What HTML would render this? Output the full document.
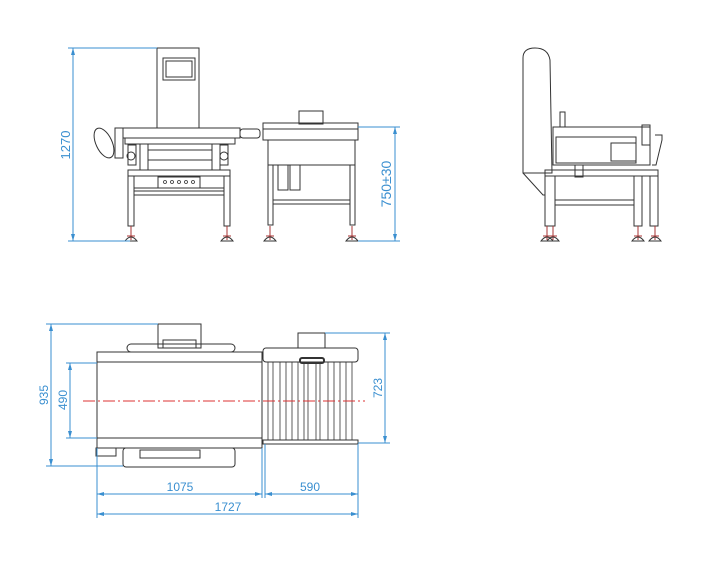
<!DOCTYPE html>
<html><head><meta charset="utf-8"><style>
html,body{margin:0;padding:0;background:#fff}
svg{display:block}
text{font-family:"Liberation Sans",sans-serif;fill:#3a8fd0}
</style></head><body>
<svg width="720" height="579" viewBox="0 0 720 579" xmlns="http://www.w3.org/2000/svg">
<g fill="none" stroke="#333" stroke-width="1">
<!-- FRONT VIEW left machine -->
<rect x="157" y="48" width="42" height="80"/>
<rect x="163" y="58" width="32" height="22"/>
<rect x="166" y="61" width="26" height="16"/>
<rect x="123" y="128" width="117" height="10"/>
<rect x="240" y="129" width="20" height="9" rx="3"/>
<ellipse cx="104" cy="143" rx="8" ry="16" transform="rotate(-25 104 143)"/>
<rect x="115" y="128" width="8" height="30"/>
<rect x="125" y="138" width="110" height="6"/>
<rect x="140" y="144" width="8" height="26"/>
<rect x="212" y="144" width="8" height="26"/>
<line x1="148" y1="150" x2="212" y2="150"/>
<line x1="148" y1="160" x2="212" y2="160"/>
<circle cx="131" cy="156" r="4"/><circle cx="224" cy="156" r="4"/>
<rect x="128" y="145" width="8" height="20"/><rect x="220" y="145" width="8" height="20"/>
<rect x="128" y="170" width="102" height="6"/>
<rect x="128" y="176" width="6" height="50"/>
<rect x="224" y="176" width="6" height="50"/>
<rect x="158" y="177" width="42" height="11"/>
<line x1="134" y1="188" x2="224" y2="188"/>
<rect x="134" y="191" width="90" height="4"/>
<g stroke-width="0.8"><circle cx="165" cy="182" r="1.5"/><circle cx="172" cy="182" r="1.5"/><circle cx="179" cy="182" r="1.5"/><circle cx="186" cy="182" r="1.5"/><circle cx="193" cy="182" r="1.5"/></g>
<!-- reject table -->
<rect x="263" y="123" width="95" height="17"/>
<line x1="263" y1="129" x2="358" y2="129"/>
<rect x="299" y="111" width="24" height="13"/>
<rect x="268" y="140" width="87" height="25"/>
<rect x="278" y="165" width="10" height="25"/>
<rect x="290" y="165" width="10" height="25"/>
<rect x="268" y="165" width="5" height="60"/>
<rect x="350" y="165" width="5" height="60"/>
<rect x="273" y="200" width="77" height="4"/>
<!-- SIDE VIEW -->
<path d="M523 173 L523 58 Q523 48 535 48 Q548 48 550 60 L552 173 Z"/>
<path d="M523 173 L543 195 L545 195"/>
<rect x="553" y="127" width="97" height="38"/>
<rect x="556" y="137" width="80" height="26"/>
<rect x="611" y="143" width="25" height="18"/>
<rect x="560" y="112" width="5" height="15"/>
<rect x="642" y="125" width="8" height="20"/>
<path d="M655 135 L662 135 L662 140 L656 165 L652 165"/>
<rect x="575" y="165" width="8" height="12"/>
<rect x="545" y="170" width="113" height="6"/>
<rect x="545" y="176" width="10" height="50"/>
<rect x="634" y="176" width="8" height="50"/>
<rect x="650" y="176" width="8" height="50"/>
<rect x="555" y="200" width="79" height="5"/>
<!-- TOP VIEW -->
<rect x="158" y="324" width="43" height="24"/>
<rect x="163" y="340" width="33" height="8"/>
<rect x="127" y="344" width="108" height="8" rx="4"/>
<rect x="97" y="352" width="165" height="10"/>
<rect x="97" y="362" width="165" height="76"/>
<rect x="97" y="438" width="165" height="10"/>
<rect x="96" y="448" width="20" height="8"/>
<rect x="123" y="448" width="112" height="19" rx="3"/>
<rect x="140" y="450" width="60" height="8"/>
<rect x="298" y="333" width="27" height="15"/>
<rect x="263" y="348" width="95" height="14" rx="3"/>
<rect x="263" y="440" width="95" height="4"/>
<g stroke-width="0.8">
<line x1="268" y1="362" x2="268" y2="440"/><line x1="273" y1="362" x2="273" y2="440"/>
<line x1="280" y1="362" x2="280" y2="440"/><line x1="286" y1="362" x2="286" y2="440"/>
<line x1="292" y1="362" x2="292" y2="440"/><line x1="298" y1="362" x2="298" y2="440"/>
<line x1="304" y1="362" x2="304" y2="440"/><line x1="308" y1="362" x2="308" y2="440"/>
<line x1="316" y1="362" x2="316" y2="440"/><line x1="320" y1="362" x2="320" y2="440"/>
<line x1="328" y1="362" x2="328" y2="440"/><line x1="334" y1="362" x2="334" y2="440"/>
<line x1="340" y1="362" x2="340" y2="440"/><line x1="346" y1="362" x2="346" y2="440"/>
<line x1="352" y1="362" x2="352" y2="440"/>
</g>
<rect x="300" y="358" width="24" height="5" rx="2" stroke-width="2"/>
</g>
<!-- feet (red) -->
<g stroke="#a33" stroke-width="1" fill="none">
<path d="M131 226 V240 M127 236 H135"/><path d="M227 226 V240 M223 236 H231"/>
<path d="M270 226 V240 M266 236 H274"/><path d="M352 226 V240 M348 236 H356"/>
<path d="M547 226 V240 M543 236 H551"/><path d="M553 226 V240 M549 236 H557"/>
<path d="M638 226 V240 M634 236 H642"/><path d="M655 226 V240 M651 236 H659"/>
</g>
<g stroke="#333" fill="none" stroke-width="1">
<path d="M125 241 Q131 233 137 241 Z"/><path d="M221 241 Q227 233 233 241 Z"/>
<path d="M264 241 Q270 233 276 241 Z"/><path d="M346 241 Q352 233 358 241 Z"/>
<path d="M541 241 Q547 233 553 241 Z"/><path d="M547 241 Q553 233 559 241 Z"/>
<path d="M632 241 Q638 233 644 241 Z"/><path d="M649 241 Q655 233 661 241 Z"/>
</g>
<!-- centre line -->
<line x1="83" y1="401" x2="365" y2="401" stroke="#d33" stroke-width="1" stroke-dasharray="12,3,2,3"/>
<!-- dimensions -->
<g stroke="#3a8fd0" stroke-width="1" fill="none">
<line x1="68" y1="48" x2="157" y2="48"/><line x1="68" y1="241" x2="130" y2="241"/>
<line x1="73" y1="48" x2="73" y2="241"/>
<line x1="358" y1="127" x2="400" y2="127"/><line x1="358" y1="241" x2="400" y2="241"/>
<line x1="395" y1="127" x2="395" y2="241"/>
<line x1="46" y1="324" x2="158" y2="324"/><line x1="46" y1="466" x2="123" y2="466"/>
<line x1="51" y1="324" x2="51" y2="466"/>
<line x1="66" y1="363" x2="97" y2="363"/><line x1="66" y1="438" x2="97" y2="438"/>
<line x1="70" y1="363" x2="70" y2="438"/>
<line x1="325" y1="333" x2="390" y2="333"/><line x1="358" y1="443" x2="390" y2="443"/>
<line x1="385" y1="333" x2="385" y2="443"/>
<line x1="97" y1="448" x2="97" y2="518"/><line x1="262" y1="448" x2="262" y2="498"/>
<line x1="265" y1="444" x2="265" y2="498"/><line x1="358" y1="444" x2="358" y2="518"/>
<line x1="97" y1="494" x2="262" y2="494"/><line x1="265" y1="494" x2="358" y2="494"/>
<line x1="97" y1="514" x2="358" y2="514"/>
</g>
<g fill="#3a8fd0">
<path d="M73 48 l-2 7 h4z"/><path d="M73 241 l-2 -7 h4z"/>
<path d="M395 127 l-2 7 h4z"/><path d="M395 241 l-2 -7 h4z"/>
<path d="M51 324 l-2 7 h4z"/><path d="M51 466 l-2 -7 h4z"/>
<path d="M70 363 l-2 7 h4z"/><path d="M70 438 l-2 -7 h4z"/>
<path d="M385 333 l-2 7 h4z"/><path d="M385 443 l-2 -7 h4z"/>
<path d="M97 494 l7 -2 v4z"/><path d="M262 494 l-7 -2 v4z"/>
<path d="M265 494 l7 -2 v4z"/><path d="M358 494 l-7 -2 v4z"/>
<path d="M97 514 l7 -2 v4z"/><path d="M358 514 l-7 -2 v4z"/>
</g>
<text x="0" y="0" font-size="13" text-anchor="middle" transform="translate(70,145) rotate(-90)">1270</text>
<text x="0" y="0" font-size="14" text-anchor="middle" transform="translate(391,184) rotate(-90)">750±30</text>
<text x="0" y="0" font-size="12" text-anchor="middle" transform="translate(48,395) rotate(-90)">935</text>
<text x="0" y="0" font-size="12" text-anchor="middle" transform="translate(67,400) rotate(-90)">490</text>
<text x="0" y="0" font-size="12" text-anchor="middle" transform="translate(382,388) rotate(-90)">723</text>
<text x="180" y="491" font-size="12" text-anchor="middle">1075</text>
<text x="310" y="491" font-size="12" text-anchor="middle">590</text>
<text x="228" y="511" font-size="12" text-anchor="middle">1727</text>
</svg>
</body></html>
